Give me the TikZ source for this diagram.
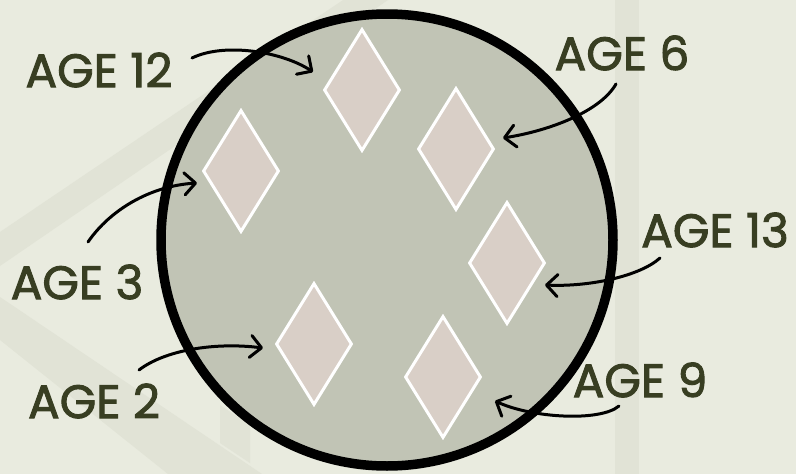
\documentclass[tikz,border=0pt]{standalone}
\usepackage{fontspec}
\setmainfont{Poppins}
\newfontfamily\agefont{Poppins}[UprightFeatures={FakeBold=2}]
\usetikzlibrary{shapes.geometric,arrows.meta}
\definecolor{bgc}{RGB}{233,235,223}
\definecolor{bandc}{RGB}{225,227,214}
\definecolor{discc}{RGB}{193,196,181}
\definecolor{gemc}{RGB}{217,207,199}
\definecolor{textc}{RGB}{56,62,34}
\tikzset{
  gem/.style={shape=diamond, draw=white, line width=3pt, fill=gemc, inner sep=0pt,
    minimum width=76pt, minimum height=122pt},
  agelabel/.style={text=textc, inner sep=0pt, font=\agefont\fontsize{47}{47}\selectfont},
  pointer/.style={draw=black, line width=3pt, line cap=round,
    -{Straight Barb[length=11pt 0, width=22pt 0, line cap=round, line join=round]}},
}
\begin{document}
\begin{tikzpicture}[x=1pt, y=-1pt]
\useasboundingbox (0,0) rectangle (796,474);
\fill[bgc] (0,0) rectangle (796,474);
% faint background decoration
\fill[bandc] (0,232) -- (343,0) -- (388,0) -- (0,266) -- cycle;
\fill[bandc] (0,297) -- (262,474) -- (168,474) -- (0,340) -- cycle;
\fill[bandc] (615,0) rectangle (639,474);
\fill[bandc] (220,405) -- (250,425) -- (250,463) -- (220,443) -- cycle;
% disc
\node[circle, draw=black, line width=9.5pt, fill=discc, minimum size=452pt, inner sep=0pt] (disc) at (387,240) {};
% gems
\node[gem] (g12) at (362,90) {};
\node[gem] (g3) at (241,171) {};
\node[gem] (g6) at (456,149) {};
\node[gem] (g13) at (507,263) {};
\node[gem] (g2) at (314,344) {};
\node[gem] (g9) at (443,377) {};
% labels
\node[agelabel] (l12) at (99,70) {AGE 12};
\node[agelabel] (l6) at (622,53) {AGE 6};
\node[agelabel] (l13) at (715,230) {AGE 13};
\node[agelabel] (l3) at (77,282) {AGE 3};
\node[agelabel] (l2) at (94,401) {AGE 2};
\node[agelabel] (l9) at (640,380) {AGE 9};
% arrow ends
\coordinate (s12) at (192,58);  \coordinate (t12) at (313,72);
\coordinate (s6) at (616,84);   \coordinate (t6) at (503,138);
\coordinate (s13) at (660,258); \coordinate (t13) at (545,285);
\coordinate (s3) at (88,242);   \coordinate (t3) at (197,183);
\coordinate (s2) at (139,370);  \coordinate (t2) at (263,348);
\coordinate (s9) at (619,406);  \coordinate (t9) at (495,401);
% arrows
\draw[pointer] (s12) .. controls (225,42) and (283,52) .. (t12);
\draw[pointer] (s6) .. controls (600,112) and (548,131) .. (t6);
\draw[pointer] (s13) .. controls (640,276) and (590,287) .. (t13);
\draw[pointer] (s3) .. controls (110,210) and (150,186) .. (t3);
\draw[pointer] (s2) .. controls (165,350) and (215,342) .. (t2);
\draw[pointer] (s9) .. controls (600,422) and (532,418) .. (t9);
\end{tikzpicture}
\end{document}
